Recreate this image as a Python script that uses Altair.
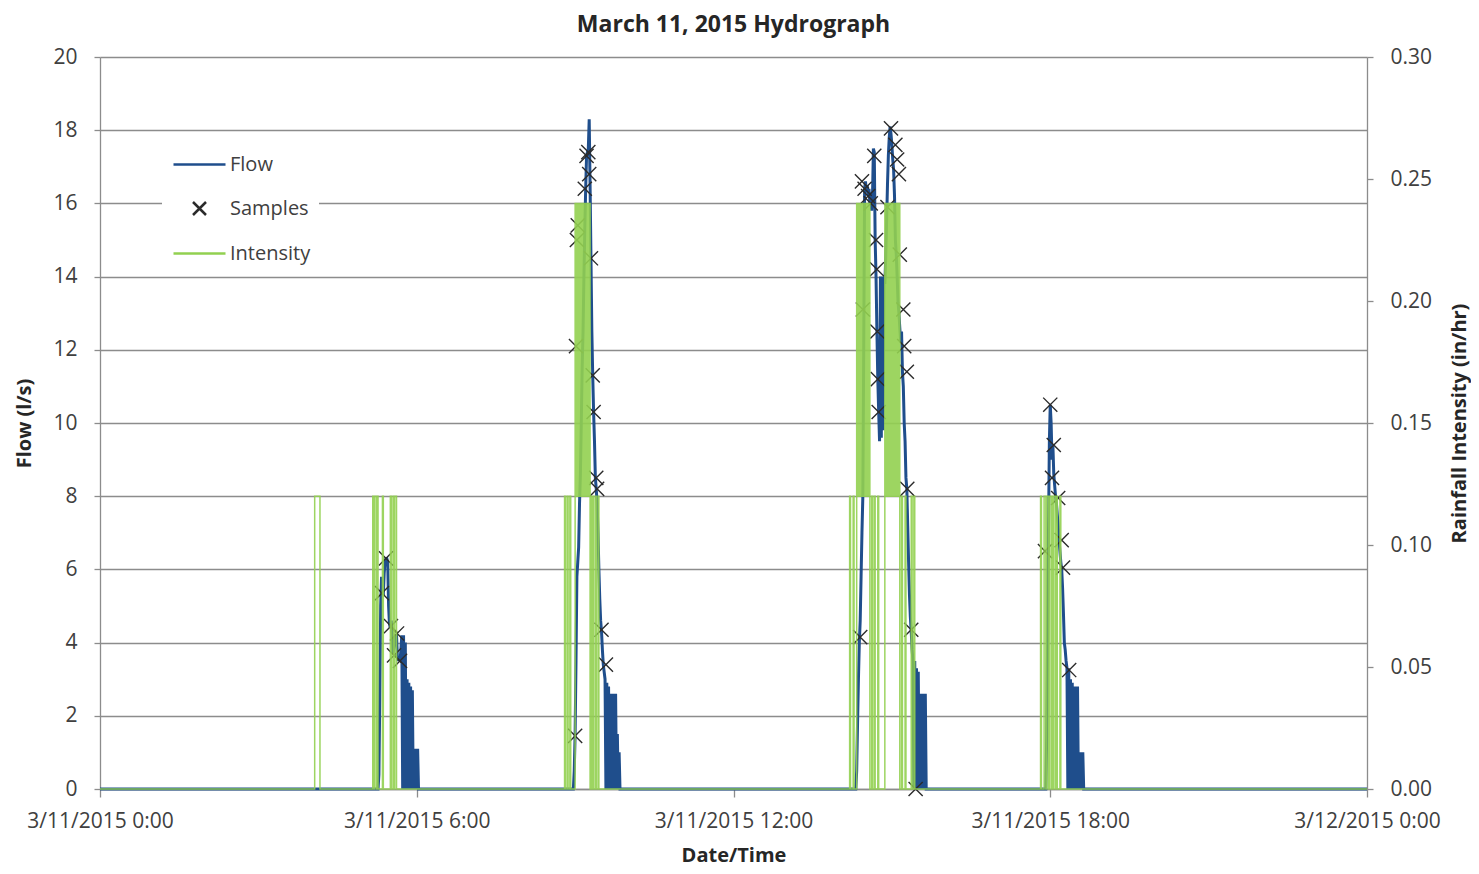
import altair as alt
import pandas as pd

TITLE = "March 11, 2015 Hydrograph"
X_TICK_MINUTES = [0, 360, 720, 1080, 1440]
X_TICK_LABELS = ["3/11/2015 0:00", "3/11/2015 6:00", "3/11/2015 12:00",
                 "3/11/2015 18:00", "3/12/2015 0:00"]
FLOW_TICKS = [0, 2, 4, 6, 8, 10, 12, 14, 16, 18, 20]
INT_TICKS = [0, 0.05, 0.10, 0.15, 0.20, 0.25, 0.30]
SERIES = ["Flow", "Samples", "Intensity"]
COLORS = ["#1f4e8c", "#2b2b2b", "#92d050"]

# Flow (l/s), one reading per minute after the start minute of each event
flow_e1_start = 313
flow_e1 = [0, 0, 0, 0, 0.4, 2.5, 5.0, 5.8, 5.5, 5.3, 5.9, 6.2, 6.3, 6.3, 6.2, 5.0, 4.5, 4.4,
           4.6, 4.2, 3.7, 3.9, 4.0, 4.2, 4.2, 3.6, 3.5,
           3.6, 3.5, 3.8, 4.2, 0, 4.2, 0, 4.0, 0, 3.0, 0, 2.9, 0, 2.8, 0, 2.7, 0, 1.1, 0,
           1.1, 0, 1.1, 0]
flow_e2_start = 538
flow_e2 = [0, 0.5, 1.5, 3.5, 5.8, 6.2, 6.6, 7.8, 8.6, 10.0, 11.5, 12.5, 14.0, 15.3, 16.4,
           17.3, 17.4, 17.5, 18.3, 16.5, 14.5, 12.5, 11.3, 10.3, 9.5, 8.5, 8.2, 7.8, 7.0,
           6.0, 5.2, 4.6, 4.3, 3.8, 3.4, 3.2, 3.0,
           0, 2.9, 0, 2.8, 0, 2.6, 0, 2.6, 0, 2.6, 0, 2.6, 0, 1.5, 0, 1.0, 0]
flow_e3_start = 856
flow_e3 = [0, 0, 0, 0, 0.5, 1.8, 3.0, 4.0, 4.6, 5.8, 7.0, 8.0, 12.0, 16.4, 16.6, 16.3, 16.5,
           16.2, 16.4, 16.0, 16.3, 15.8, 16.2, 17.5, 17.4, 15.0, 14.0, 12.5, 11.2, 10.3,
           9.5, 14.0, 9.6, 14.0, 9.8, 14.0, 13.8, 14.5, 15.5, 16.5, 17.3, 17.8, 18.1, 17.9,
           17.6, 17.2, 16.9, 16.2, 15.0, 14.6, 14.0, 13.3, 13.0, 12.6, 12.2, 12.5, 11.4,
           11.0, 10.0, 9.5, 8.5, 8.2, 7.2, 6.2, 5.3, 4.7, 4.3, 3.8, 3.5,
           0, 3.5, 0, 3.3, 0, 3.2, 0, 2.6, 0, 2.6, 0, 2.6, 0, 2.6, 0]
flow_e4_start = 1074
flow_e4 = [0, 0, 1.5, 4.0, 7.0, 9.5, 10.5, 10.0, 9.0, 9.4, 8.6, 8.3, 8.0, 7.8, 7.5, 7.2,
           6.8, 6.5, 6.2, 6.0, 5.5, 4.8, 4.0, 3.8, 3.5, 3.3,
           0, 3.3, 0, 3.0, 0, 2.9, 0, 2.8, 0, 2.8, 0, 2.8, 0, 1.0, 0, 1.0, 0, 1.0, 0]

# Samples (minute of day, flow l/s)
sample_minute = [320.5, 325, 330.7, 334.2, 337.6, 341,
                 540, 541, 542, 543, 551, 553, 555, 556, 558, 560, 561, 564, 565, 570, 575,
                 864, 866, 869, 873, 876, 880, 882, 883, 883.5, 884, 885, 867, 895, 899, 904,
                 906, 908, 909, 913, 914, 917, 917.5, 922, 927,
                 1074, 1080, 1082, 1084, 1089, 1093, 1094.5, 1101.5]
sample_flow = [5.35, 6.3, 4.45, 3.65, 4.25, 3.5,
               1.45, 12.1, 15.0, 15.4, 16.4, 17.3, 17.4, 16.8, 14.5, 11.3, 10.3, 8.5, 8.2,
               4.35, 3.4,
               4.15, 16.6, 16.4, 16.2, 16.0, 17.3, 15.0, 14.2, 12.5, 11.2, 10.3, 13.1, 15.9,
               18.05, 17.6, 17.2, 16.8, 14.6, 13.1, 12.1, 11.4, 8.2, 4.35, 0.0,
               6.5, 10.5, 8.5, 9.4, 7.95, 6.8, 6.05, 3.25]

# Rainfall intensity (in/hr), one value per minute after each start minute
int_e0_start = 243
int_e0 = [0, 0.12, 0.12, 0.12, 0.12, 0.12, 0.12, 0]
int_e1_start = 309
int_e1 = [0, 0.12, 0, 0.12, 0.12, 0, 0.12, 0, 0, 0, 0, 0, 0.12, 0, 0, 0, 0, 0, 0, 0, 0,
          0.12, 0, 0, 0.12, 0, 0.12, 0.12, 0, 0]
int_e2_start = 527
int_e2 = [0, 0.12, 0, 0, 0.12, 0, 0, 0.12, 0, 0, 0, 0, 0,
          0.24, 0.12, 0.24, 0.12, 0.24, 0.12, 0.24, 0.12, 0.24, 0.12, 0.24, 0.12, 0.24,
          0.12, 0.24, 0.12, 0.24,
          0, 0.12, 0, 0.12, 0, 0, 0.12, 0, 0, 0.12, 0, 0]
int_e3_start = 851
int_e3 = [0, 0.12, 0, 0, 0, 0.12, 0, 0, 0,
          0.24, 0.12, 0.24, 0.12, 0.24, 0.12, 0.24, 0.12, 0.24, 0.12, 0.24, 0.12, 0.24,
          0.12, 0.24,
          0, 0, 0.12, 0, 0, 0.12, 0, 0, 0, 0.12, 0, 0, 0, 0, 0, 0, 0,
          0.24, 0.12, 0.24, 0.12, 0.24, 0.12, 0.24, 0.12, 0.24, 0.12, 0.24, 0.12, 0.24,
          0.12, 0.24, 0.12, 0.24,
          0, 0, 0.12, 0, 0, 0, 0.12, 0, 0, 0, 0, 0, 0, 0.12, 0, 0, 0.12, 0]
int_e4_start = 1068
int_e4 = [0, 0.12, 0, 0, 0, 0.12, 0.12, 0, 0.12, 0.12, 0, 0.12, 0.12, 0, 0.12, 0, 0.12,
          0.12, 0, 0.12, 0, 0, 0, 0.12, 0, 0]

DAY_START, DAY_END = 0, 1440


def minute_rows(events, field):
    rows = [{"minute": DAY_START, field: 0.0}]
    for start, vals in events:
        for i, v in enumerate(vals):
            rows.append({"minute": start + i, field: v})
    rows.append({"minute": DAY_END, field: 0.0})
    return rows


flow_df = pd.DataFrame(minute_rows([(flow_e1_start, flow_e1), (flow_e2_start, flow_e2),
                                    (flow_e3_start, flow_e3), (flow_e4_start, flow_e4)],
                                   "flow"))
flow_df["series"] = "Flow"
int_df = pd.DataFrame(minute_rows([(int_e0_start, int_e0), (int_e1_start, int_e1),
                                   (int_e2_start, int_e2), (int_e3_start, int_e3),
                                   (int_e4_start, int_e4)], "intensity"))
int_df["series"] = "Intensity"
samp_df = pd.DataFrame({"minute": sample_minute, "flow": sample_flow})
samp_df["series"] = "Samples"

FONT = "Open Sans"
LINE_PATH = "M-2,0L2,0"
X_PATH = "M-0.5,-0.5L0.5,0.5M-0.5,0.5L0.5,-0.5"

labels_js = "[" + ",".join("'" + s + "'" for s in X_TICK_LABELS) + "]"
ticks_js = "[" + ",".join(str(v) for v in X_TICK_MINUTES) + "]"
label_expr = labels_js + "[indexof(" + ticks_js + ", datum.value)]"

x_enc = alt.X("minute:Q",
              scale=alt.Scale(domain=[DAY_START, DAY_END], nice=False, zero=False),
              axis=alt.Axis(values=X_TICK_MINUTES, labelExpr=label_expr, title="Date/Time",
                            grid=False, labelFlush=False, labelOverlap=False,
                            tickSize=8, labelPadding=13, titlePadding=14))

y_flow = alt.Y("flow:Q", scale=alt.Scale(domain=[0, 20], nice=False),
               axis=alt.Axis(values=FLOW_TICKS, title="Flow (l/s)", grid=True,
                             tickSize=6, labelPadding=17, titlePadding=18))

color_enc = alt.Color("series:N", scale=alt.Scale(domain=SERIES, range=COLORS),
                      legend=alt.Legend(title=None))

flow_line = alt.Chart(flow_df).mark_line(strokeWidth=3, interpolate="linear").encode(
    x=x_enc, y=y_flow, color=color_enc, order="minute:Q")

samples = alt.Chart(samp_df).mark_point(filled=False, size=800, strokeWidth=1.4,
                                        opacity=1).encode(
    x=x_enc, y=y_flow, color=color_enc,
    shape=alt.Shape("series:N",
                    scale=alt.Scale(domain=SERIES, range=[LINE_PATH, X_PATH, LINE_PATH]),
                    legend=alt.Legend(title=None)))

intensity = alt.Chart(int_df).mark_line(strokeWidth=1.5, interpolate="step-after",
                                        opacity=0.9).encode(
    x=x_enc,
    y=alt.Y("intensity:Q", scale=alt.Scale(domain=[0, 0.3], nice=False),
            axis=alt.Axis(orient="right", values=INT_TICKS, format=".2f",
                          title="Rainfall Intensity (in/hr)", grid=False, tickSize=6,
                          labelPadding=17, titlePadding=38, titleAngle=270)),
    color=color_enc, order="minute:Q")

left = alt.layer(flow_line, samples)
chart = alt.layer(left, intensity).resolve_scale(y="independent").properties(
    width=1267, height=732,
    autosize=alt.AutoSizeParams(type="none"),
    padding={"left": 92, "top": 49, "right": 104, "bottom": 77},
    title=alt.TitleParams(TITLE, fontSize=23, fontWeight="bold", font=FONT,
                          color="#262626", anchor="middle", offset=9),
).configure_view(strokeWidth=0).configure_axis(
    labelFont=FONT, labelFontSize=21, labelColor="#404040",
    titleFont=FONT, titleFontSize=20, titleFontWeight="bold", titleColor="#262626",
    domainColor="#8c8c8c", domainWidth=1.3, tickColor="#8c8c8c", tickWidth=1.3,
    gridColor="#8c8c8c", gridWidth=1.3,
).configure_legend(
    orient="none", legendX=62, legendY=85, padding=8, fillColor="white",
    symbolSize=676, symbolStrokeWidth=2.5, symbolOffset=15, labelOffset=16,
    rowPadding=19, labelFont=FONT, labelFontSize=20, labelColor="#404040",
)

chart.save("out.html", embed_options={"renderer": "svg", "actions": False})
